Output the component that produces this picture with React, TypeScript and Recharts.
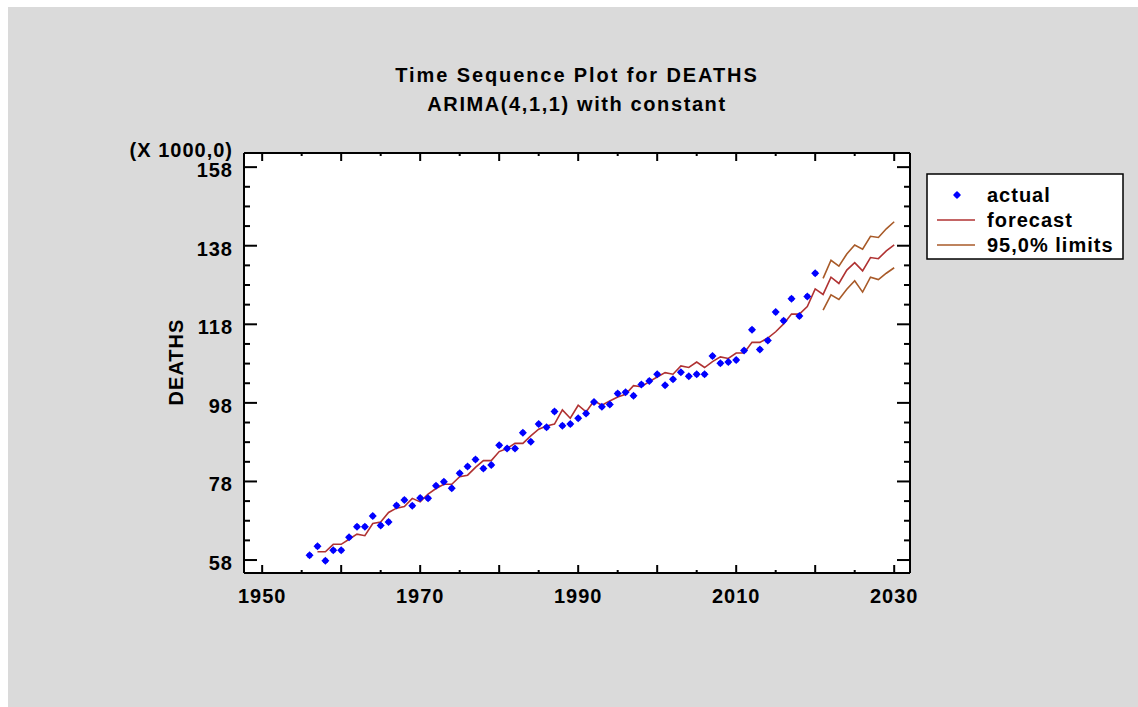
import React from "react";
import {
  ComposedChart,
  Line,
  Scatter,
  XAxis,
  YAxis,
  CartesianGrid,
} from "recharts";

// actual deaths (thousands), 1956..2020
const actualYears = Array.from({ length: 65 }, (_, i) => 1956 + i);
const actualDeaths = [
  59.2, 61.5, 57.8, 60.5, 60.5, 63.8, 66.5, 66.5, 69.2, 66.8,
  67.7, 71.9, 73.3, 71.8, 73.8, 73.7, 76.9, 77.9, 76.3, 80.1,
  81.8, 83.6, 81.3, 82.2, 87.2, 86.4, 86.4, 90.4, 88.1, 92.6,
  91.8, 95.8, 92.2, 92.6, 94.1, 95.3, 98.2, 97.0, 97.6, 100.4,
  100.7, 99.8, 102.7, 103.6, 105.3, 102.5, 104.0, 105.8, 104.8, 105.3,
  105.3, 109.9, 108.1, 108.4, 108.9, 111.3, 116.6, 111.6, 113.9, 121.1,
  118.9, 124.5, 120.1, 125.1, 131.0,
];

// one-step fitted values and forecasts, 1957..2030
const forecastYears = Array.from({ length: 74 }, (_, i) => 1957 + i);
const forecast = [
  60.1, 60.1, 62.0, 62.0, 63.3, 64.6, 64.2, 67.3, 67.7, 70.1,
  71.2, 71.6, 73.7, 72.8, 74.8, 76.2, 77.3, 77.3, 79.2, 79.6,
  81.6, 83.3, 83.3, 85.6, 86.4, 87.7, 87.7, 89.6, 91.3, 92.1,
  92.6, 96.2, 94.1, 97.4, 95.7, 98.5, 97.4, 98.5, 99.5, 100.2,
  102.4, 102.1, 103.4, 104.6, 105.7, 105.3, 107.4, 107.0, 108.4, 107.0,
  108.5, 109.7, 109.3, 110.7, 110.7, 113.4, 113.4, 114.5, 116.1, 118.1,
  120.6, 120.6, 122.5, 127.0, 125.6, 130.0, 128.4, 131.8, 133.7, 131.6,
  135.0, 134.7, 136.7, 138.2,
];

// 95% limits, 2021..2030
const limitYears = Array.from({ length: 10 }, (_, i) => 2021 + i);
const upperLimit = [129.7, 134.3, 132.8, 135.9, 138.2, 137.1, 140.4, 140.1, 142.3, 144.1];
const lowerLimit = [121.6, 125.5, 124.3, 126.9, 129.1, 126.2, 130.0, 129.4, 131.0, 132.4];

const xTicks = Array.from({ length: 17 }, (_, i) => 1950 + i * 5);
const yTicks = Array.from({ length: 21 }, (_, i) => 58 + i * 5);

const BLUE = "#0000ff";
const RED = "#b03232";
const BROWN = "#a85a28";
const FONT = "'Liberation Sans', Arial, sans-serif";

const legendItems = [
  { name: "actual", color: BLUE, kind: "point" },
  { name: "forecast", color: RED, kind: "line" },
  { name: "95,0% limits", color: BROWN, kind: "line" },
];

const actualData = actualYears.map((year, i) => ({ year, actual: actualDeaths[i] }));

const lineData = forecastYears.map((year, i) => {
  const li = limitYears.indexOf(year);
  return {
    year,
    forecast: forecast[i],
    upper: li >= 0 ? upperLimit[li] : null,
    lower: li >= 0 ? lowerLimit[li] : null,
  };
});

const textStyle = { fontFamily: FONT, fontWeight: 700, fontSize: 20, letterSpacing: 1 };

const Diamond = (props: any) => {
  const { cx, cy, fill } = props;
  if (cx == null || cy == null) return null;
  const r = 4;
  const s = 2.2;
  return (
    <g fill={fill}>
      <path d={`M${cx},${cy - r}L${cx + r},${cy}L${cx},${cy + r}L${cx - r},${cy}Z`} />
      <rect x={cx - s} y={cy - s} width={s * 2} height={s * 2} />
    </g>
  );
};

const BottomTick = (props: any) => {
  const { x, y, payload } = props;
  const v = payload.value;
  const len = v % 10 === 0 ? 8 : 3;
  return (
    <g>
      <line x1={x} x2={x} y1={y} y2={y - len} stroke="#000" strokeWidth={2} />
      {v % 20 === 10 && (
        <text x={x} y={y + 30} textAnchor="middle" style={textStyle} fill="#000">
          {v}
        </text>
      )}
    </g>
  );
};

const TopTick = (props: any) => {
  const { x, y, payload } = props;
  const len = payload.value % 10 === 0 ? 8 : 3;
  return <line x1={x} x2={x} y1={y} y2={y + len} stroke="#000" strokeWidth={2} />;
};

const LeftTick = (props: any) => {
  const { x, y, payload } = props;
  const v = payload.value;
  const major = (v - 58) % 20 === 0;
  return (
    <g>
      <line x1={x} x2={x + (major ? 13 : 6)} y1={y} y2={y} stroke="#000" strokeWidth={2} />
      {major && (
        <text x={x - 11} y={y + 10} textAnchor="end" style={textStyle} fill="#000">
          {v}
        </text>
      )}
    </g>
  );
};

const RightTick = (props: any) => {
  const { x, y, payload } = props;
  const major = (payload.value - 58) % 20 === 0;
  return <line x1={x} x2={x - (major ? 13 : 6)} y1={y} y2={y} stroke="#000" strokeWidth={2} />;
};

const App = () => {
  return (
    <div
      style={{
        position: "absolute",
        left: 8,
        top: 7,
        width: 1130,
        height: 700,
        background: "#dadada",
      }}
    >
      <ComposedChart
        width={1130}
        height={700}
        data={lineData}
        margin={{ top: 136, right: 218, bottom: 94, left: 176 }}
      >
        <CartesianGrid horizontal={false} vertical={false} fill="#fff" />
        <XAxis
          xAxisId="bottom"
          dataKey="year"
          type="number"
          domain={[1947.7, 2032]}
          allowDataOverflow
          ticks={xTicks}
          interval={0}
          height={40}
          tickSize={0}
          tickMargin={0}
          tick={<BottomTick />}
          axisLine={{ stroke: "#000", strokeWidth: 2 }}
          tickLine={false}
        />
        <XAxis
          xAxisId="top"
          orientation="top"
          dataKey="year"
          type="number"
          domain={[1947.7, 2032]}
          allowDataOverflow
          ticks={xTicks}
          interval={0}
          height={10}
          tickSize={0}
          tickMargin={0}
          tick={<TopTick />}
          axisLine={{ stroke: "#000", strokeWidth: 2 }}
          tickLine={false}
        />
        <YAxis
          yAxisId="left"
          type="number"
          domain={[54.7, 161.6]}
          allowDataOverflow
          ticks={yTicks}
          interval={0}
          width={60}
          tickSize={0}
          tickMargin={0}
          tick={<LeftTick />}
          axisLine={{ stroke: "#000", strokeWidth: 2 }}
          tickLine={false}
        />
        <YAxis
          yAxisId="right"
          orientation="right"
          type="number"
          domain={[54.7, 161.6]}
          allowDataOverflow
          ticks={yTicks}
          interval={0}
          width={10}
          tickSize={0}
          tickMargin={0}
          tick={<RightTick />}
          axisLine={{ stroke: "#000", strokeWidth: 2 }}
          tickLine={false}
        />
        <Line
          xAxisId="bottom"
          yAxisId="left"
          dataKey="forecast"
          stroke={RED}
          strokeWidth={1.6}
          dot={false}
          isAnimationActive={false}
        />
        <Line
          xAxisId="bottom"
          yAxisId="left"
          dataKey="upper"
          stroke={BROWN}
          strokeWidth={1.6}
          dot={false}
          isAnimationActive={false}
        />
        <Line
          xAxisId="bottom"
          yAxisId="left"
          dataKey="lower"
          stroke={BROWN}
          strokeWidth={1.6}
          dot={false}
          isAnimationActive={false}
        />
        <Scatter
          xAxisId="bottom"
          yAxisId="left"
          data={actualData}
          dataKey="actual"
          fill={BLUE}
          shape={<Diamond />}
          isAnimationActive={false}
        />
      </ComposedChart>

      {/* titles and axis captions */}
      <svg
        width={1130}
        height={700}
        style={{ position: "absolute", left: 0, top: 0, pointerEvents: "none" }}
      >
        <text x={569} y={75} textAnchor="middle" style={{ ...textStyle, letterSpacing: 1.9 }}>
          Time Sequence Plot for DEATHS
        </text>
        <text x={569} y={104} textAnchor="middle" style={{ ...textStyle, letterSpacing: 1.6 }}>
          ARIMA(4,1,1) with constant
        </text>
        <text x={225} y={150} textAnchor="end" style={textStyle}>
          (X 1000,0)
        </text>
        <text transform="translate(175,355) rotate(-90)" textAnchor="middle" style={textStyle}>
          DEATHS
        </text>

        <g transform="translate(919,167)">
          <rect x={0} y={0} width={196} height={85} fill="#fff" stroke="#000" strokeWidth={1.5} />
          {legendItems.map((item, i) => {
            const rowY = 21 + i * 25;
            return (
              <g key={item.name}>
                {item.kind === "point" ? (
                  <Diamond cx={30} cy={rowY} fill={item.color} />
                ) : (
                  <line x1={10} x2={48} y1={rowY} y2={rowY} stroke={item.color} strokeWidth={1.6} />
                )}
                <text x={60} y={rowY + 7} style={textStyle}>
                  {item.name}
                </text>
              </g>
            );
          })}
        </g>
      </svg>
    </div>
  );
};

export default App;
